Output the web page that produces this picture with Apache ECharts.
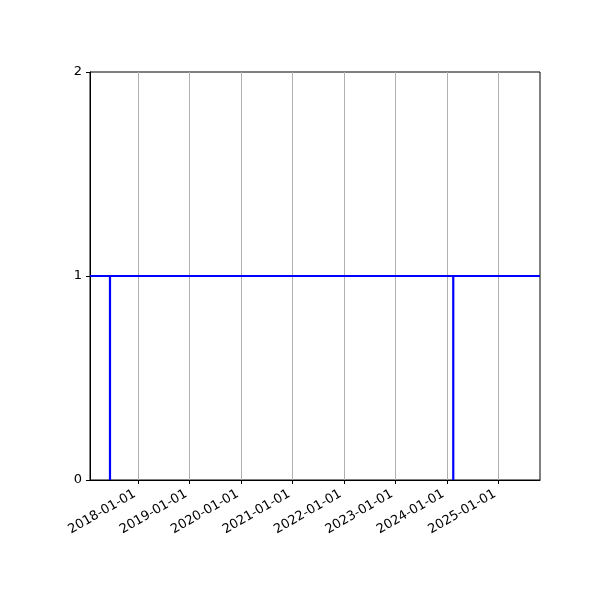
<!DOCTYPE html>
<html>
<head>
<meta charset="utf-8">
<script src="https://cdn.jsdelivr.net/npm/echarts@6/dist/echarts.min.js"></script>
<style>
  html, body { margin: 0; padding: 0; background: #fff; }
  #main { width: 600px; height: 600px; }
</style>
</head>
<body>
<div id="main"></div>
<script>
// x range and event dates
var xMin = '2017-01-23';
var xMax = '2025-10-24';
var eventDates = ['2017-06-14', '2024-02-16'];
var baseLevel = 1;
var dropLevel = 0;
var yearTicks = ['2018-01-01', '2019-01-01', '2020-01-01', '2021-01-01',
                 '2022-01-01', '2023-01-01', '2024-01-01', '2025-01-01'];
var yTicks = [0, 1, 2];

var chart = echarts.init(document.getElementById('main'));

var lineData = [[xMin, baseLevel]];
eventDates.forEach(function (d) {
    lineData.push([d, baseLevel], [d, dropLevel], [d, baseLevel]);
});
lineData.push([xMax, baseLevel]);

var tickTimes = yearTicks.map(function (d) { return +new Date(d); });

var labelFont = { color: '#000', fontSize: 13, fontFamily: 'DejaVu Sans' };

chart.setOption({
    animation: false,
    grid: {
        left: 90, right: 60, top: 72, bottom: 120,
        show: true, borderColor: '#000', borderWidth: 1
    },
    xAxis: {
        type: 'time',
        min: xMin,
        max: xMax,
        axisLine: { lineStyle: { color: '#000' } },
        axisTick: { customValues: tickTimes, length: 4, lineStyle: { color: '#000' } },
        axisLabel: Object.assign({
            customValues: tickTimes,
            rotate: 30,
            margin: 11,
            padding: [0, 4, 0, 0],
            formatter: '{yyyy}-{MM}-{dd}'
        }, labelFont),
        splitLine: { show: false }
    },
    yAxis: {
        type: 'value',
        min: yTicks[0],
        max: yTicks[yTicks.length - 1],
        interval: 1,
        axisLine: { show: true, lineStyle: { color: '#000' } },
        axisTick: { show: true, length: 4, lineStyle: { color: '#000' } },
        axisLabel: Object.assign({ margin: 8 }, labelFont),
        splitLine: { show: false }
    },
    series: [{
        type: 'line',
        data: lineData,
        showSymbol: false,
        symbol: 'none',
        lineStyle: { color: '#0000ff', width: 2.2 },
        z: 3,
        markLine: {
            silent: true,
            symbol: 'none',
            label: { show: false },
            lineStyle: { color: '#b0b0b0', width: 1, type: 'solid' },
            data: yearTicks.map(function (d) { return { xAxis: d }; }),
            z: 1
        }
    }]
});
</script>
</body>
</html>
